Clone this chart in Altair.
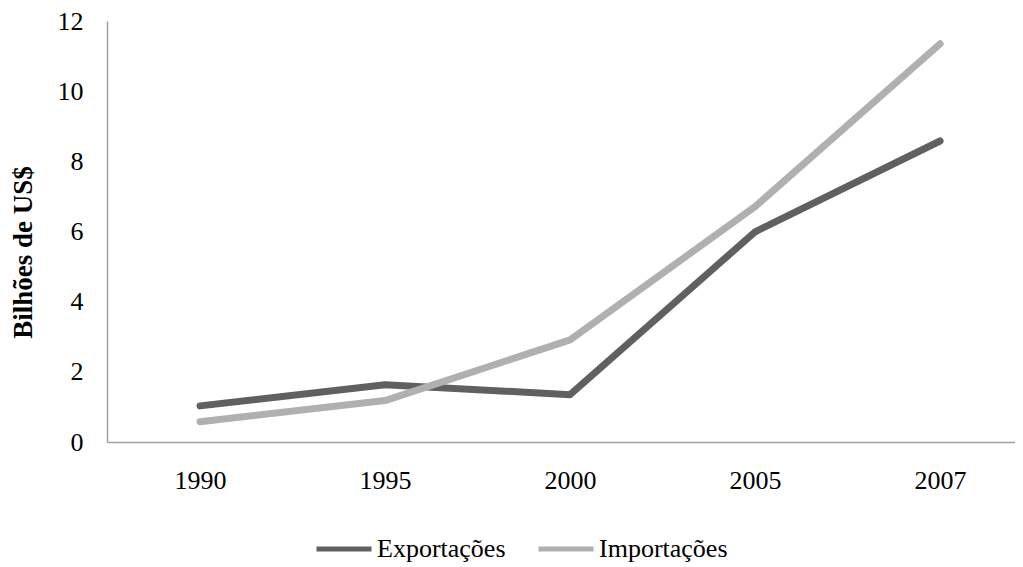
import altair as alt
import pandas as pd

years = ["1990", "1995", "2000", "2005", "2007"]
exportacoes = [1.03, 1.63, 1.35, 5.99, 8.58]
importacoes = [0.58, 1.18, 2.91, 6.71, 11.35]
series = ["Exportações", "Importações"]
colors = ["#606060", "#b0b0b0"]

rows = []
for y, v in zip(years, exportacoes):
    rows.append({"ano": y, "valor": v, "serie": series[0]})
for y, v in zip(years, importacoes):
    rows.append({"ano": y, "valor": v, "serie": series[1]})
df = pd.DataFrame(rows)

FONT = "Liberation Serif"

chart = alt.Chart(df).mark_line(strokeWidth=7, strokeCap="round", strokeJoin="round").encode(
    x=alt.X("ano:O", sort=years,
            scale=alt.Scale(type="point", padding=0.454, align=0.554),
            axis=alt.Axis(title=None, labelAngle=0, labelFontSize=26, labelFont=FONT,
                          labelColor="#000000", labelPadding=25, ticks=False,
                          domainColor="#a0a0a0", domainWidth=1.5)),
    y=alt.Y("valor:Q",
            scale=alt.Scale(domain=[0, 12], nice=False),
            axis=alt.Axis(title="Bilhões de US$", values=[0, 2, 4, 6, 8, 10, 12],
                          labelFontSize=26, labelFont=FONT, labelColor="#000000",
                          labelPadding=24, ticks=False, grid=False,
                          domainColor="#a0a0a0", domainWidth=1.5,
                          titleFont=FONT, titleFontSize=27, titleFontWeight="bold",
                          titleColor="#000000", titleX=-84, titleY=231,
                          titleAlign="center", titleBaseline="middle")),
    color=alt.Color("serie:N",
                    scale=alt.Scale(domain=series, range=colors),
                    legend=alt.Legend(title=None, orient="none", direction="horizontal",
                                      legendX=207, legendY=513, clipHeight=30,
                                      symbolType="stroke", symbolSize=3025,
                                      symbolStrokeWidth=5, labelFont=FONT,
                                      labelFontSize=26, labelColor="#000000",
                                      labelOffset=3, columnPadding=30)),
).properties(
    width=908,
    height=421,
    autosize=alt.AutoSizeParams(type="none"),
    padding={"left": 99, "top": 13, "right": 0, "bottom": 120},
).configure_view(stroke=None).configure_axis(domainCap="butt")

chart.save("out.html", embed_options={"renderer": "svg", "actions": False})
